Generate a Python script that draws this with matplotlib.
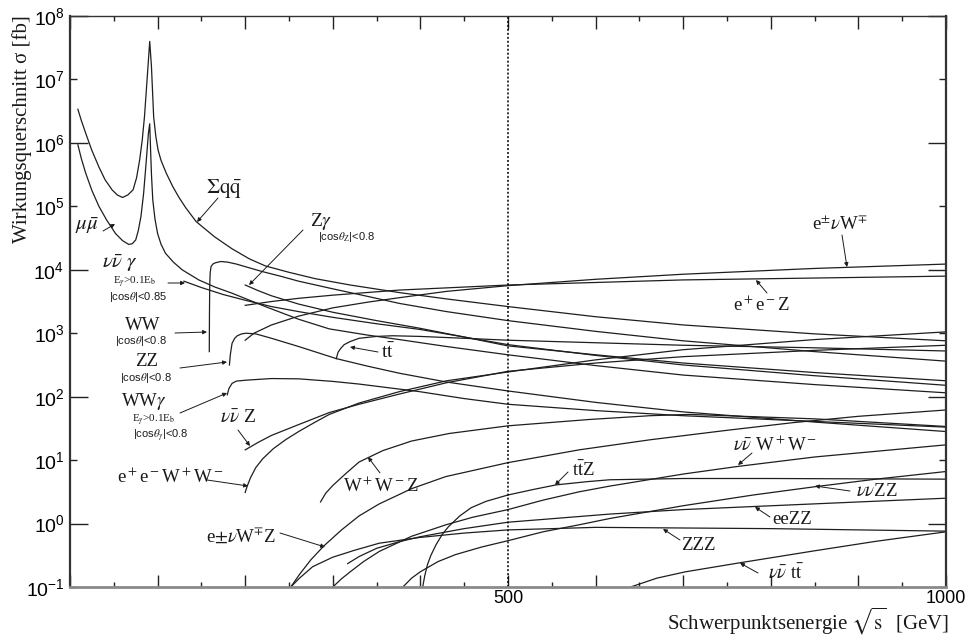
import numpy as np
import matplotlib
matplotlib.use('Agg')
import matplotlib.pyplot as plt
from matplotlib.ticker import FixedLocator, FuncFormatter

plt.rcParams['font.family'] = ['Liberation Sans', 'DejaVu Sans']
plt.rcParams['mathtext.fontset'] = 'stix'

# ---------------- data (sqrt(s) in GeV, sigma in fb) ----------------
E_qq = [9, 13, 18, 25, 33, 40, 48, 54, 60, 66, 72, 76, 79.5, 82.5, 85, 87, 89, 91, 93, 95.5, 98, 100.5, 104,
        110, 117, 124, 132, 144, 165, 185, 205, 223, 250, 280, 320, 376, 430, 500, 600, 700, 850, 1000]
S_qq = [3.39e6, 2.24e6, 1.41e6, 7.59e5, 4.17e5, 2.63e5, 1.82e5, 1.51e5, 1.38e5, 1.51e5, 1.82e5, 2.82e5,
        5.37e5, 1.12e6, 2.57e6, 6.31e6, 1.58e7, 3.98e7, 1.58e7, 2.57e6, 1.26e6, 7.76e5, 5.25e5, 3.31e5,
        2.09e5, 1.41e5, 9.55e4, 5.75e4, 3.31e4, 2.14e4, 1.48e4, 1.15e4, 9.12e3, 7.24e3, 5.75e3, 4.37e3,
        3.47e3, 2.63e3, 1.82e3, 1.35e3, 977, 759]

E_mm = [9, 13, 18, 25, 33, 42, 52, 60, 67, 71, 75, 78, 81, 84, 86.5, 89.5, 91, 92, 93, 94.5, 97, 100, 104,
        109, 118, 128, 147, 165, 185, 205, 223, 261, 296, 340, 376, 430, 500, 600, 700, 850, 1000]
S_mm = [9.33e5, 5.62e5, 3.31e5, 1.78e5, 1.0e5, 6.03e4, 3.72e4, 2.88e4, 2.51e4, 2.57e4, 2.95e4, 4.17e4,
        6.92e4, 1.58e5, 4.17e5, 1.41e6, 2.0e6, 7.76e5, 3.16e5, 1.26e5, 6.31e4, 3.72e4, 2.51e4, 1.82e4,
        1.32e4, 1.0e4, 6.92e3, 5.37e3, 4.27e3, 3.31e3, 2.63e3, 1.66e3, 1.17e3, 933, 794, 617, 457, 309,
        219, 155, 115]

E_nng = [130, 150, 175, 200, 230, 261, 300, 350, 399, 450, 500, 600, 700, 850, 1000]
S_nng = [6.61e3, 5.25e3, 4.07e3, 3.31e3, 2.63e3, 2.19e3, 1.78e3, 1.41e3, 1.15e3, 871, 661, 447, 316, 214, 151]

E_zg = [200, 215, 230, 261, 300, 350, 399, 450, 500, 600, 700, 850, 1000]
S_zg = [5.75e3, 4.68e3, 3.89e3, 2.88e3, 2.14e3, 1.58e3, 1.20e3, 871, 631, 457, 339, 240, 178]

E_ww = [159.0, 159.2, 159.5, 160, 161, 163, 166, 172, 180, 190, 205, 220, 240, 261, 300, 340, 376, 430,
        500, 600, 700, 850, 1000]
S_ww = [513, 2.0e3, 5.62e3, 8.91e3, 1.12e4, 1.23e4, 1.29e4, 1.35e4, 1.32e4, 1.23e4, 1.07e4, 9.33e3,
        7.94e3, 6.61e3, 5.01e3, 3.80e3, 2.95e3, 2.19e3, 1.58e3, 1.07e3, 759, 513, 363]

E_zz = [182, 183, 185, 188, 191, 196, 201, 212, 230, 261, 304, 340, 376, 430, 500, 600, 700, 850, 1000]
S_zz = [316, 457, 692, 832, 912, 977, 1000, 977, 832, 617, 398, 302, 234, 170, 123, 81.3, 57.5, 39.8, 28.2]

E_wwg = [179.5, 181.5, 185, 190, 201, 230, 261, 300, 330, 399, 450, 500, 600, 700, 850, 1000]
S_wwg = [107, 135, 162, 176, 182, 193, 191, 174, 158, 120, 93.3, 75.9, 60.3, 50.1, 40.7, 33.1]

E_tt = [304, 306, 309, 313, 320, 330, 350, 368, 399, 450, 500, 600, 700, 850, 1000]
S_tt = [398, 501, 575, 661, 741, 832, 891, 912, 891, 832, 776, 708, 646, 589, 525]

E_enw = [200, 210, 230, 261, 300, 340, 376, 430, 500, 600, 700, 850, 1000]
S_enw = [776, 1.0e3, 1.35e3, 1.86e3, 2.51e3, 3.09e3, 3.63e3, 4.57e3, 5.62e3, 7.08e3, 8.51e3, 1.05e4, 1.23e4]

E_eez = [200, 230, 261, 300, 376, 500, 700, 850, 1000]
S_eez = [2.75e3, 3.16e3, 3.55e3, 3.98e3, 4.79e3, 5.75e3, 6.92e3, 7.41e3, 7.94e3]

E_nnz = [200, 215, 230, 261, 296, 330, 376, 430, 500, 600, 700, 850, 1000]
S_nnz = [14.5, 19.1, 24.5, 36.3, 56.2, 75.9, 110, 166, 251, 339, 427, 537, 646]

E_eeww = [200, 202, 206, 212, 220, 232, 246, 261, 280, 296, 330, 376, 430, 500, 600, 700, 850, 1000]
S_eeww = [3.09, 3.80, 5.25, 7.59, 10.5, 15.1, 20.9, 28.2, 39.8, 52.5, 79.4, 120, 178, 245, 380, 550, 794, 1050]

E_wwz = [286, 292, 300, 315, 330, 357, 390, 433, 500, 593, 662, 707, 850, 1000]
S_wwz = [2.19, 3.02, 3.98, 6.17, 9.33, 14.1, 20.0, 26.3, 34.7, 43.7, 50.1, 52.5, 44.7, 33.9]

E_enwz = [252, 262, 275, 290, 310, 330, 353, 390, 429, 500, 581, 662, 750, 825, 900, 1000]
S_enwz = [0.1, 0.158, 0.269, 0.447, 0.794, 1.32, 2.04, 3.55, 5.50, 9.12, 14.5, 20.9, 29.5, 38.9, 49.0, 61.7]

E_zzz = [252, 262, 277, 300, 325, 353, 399, 450, 500, 600, 800, 1000]
S_zzz = [0.1, 0.138, 0.209, 0.295, 0.38, 0.49, 0.603, 0.708, 0.794, 0.871, 0.832, 0.759]

E_eezz = [317, 330, 350, 375, 399, 450, 500, 581, 616, 700, 782, 900, 1000]
S_eezz = [0.234, 0.302, 0.407, 0.513, 0.617, 0.832, 1.05, 1.29, 1.41, 1.66, 1.86, 2.19, 2.51]

E_nnww = [300, 310, 320, 335, 353, 390, 429, 460, 500, 540, 581, 616, 700, 762, 850, 1000]
S_nnww = [0.1, 0.135, 0.174, 0.251, 0.363, 0.631, 0.955, 1.26, 1.66, 2.34, 3.16, 3.89, 6.03, 7.94, 11.2, 17.4]

E_nnzz = [380, 390, 400, 420, 440, 470, 500, 540, 581, 616, 700, 780, 850, 920, 1000]
S_nnzz = [0.1, 0.138, 0.174, 0.251, 0.324, 0.427, 0.537, 0.741, 0.955, 1.20, 1.91, 2.82, 3.80, 5.01, 6.61]

E_ttz = [402.6, 405, 408, 412, 418, 425, 432, 445, 458, 475, 500, 530, 555, 590, 616, 700, 800, 1000]
S_ttz = [0.1, 0.151, 0.224, 0.316, 0.468, 0.676, 0.891, 1.32, 1.78, 2.24, 2.82, 3.47, 4.07, 4.57, 4.90,
         5.13, 5.13, 5.01]

E_nntt = [640, 670, 703, 764, 850, 920, 1000]
S_nntt = [0.1, 0.138, 0.174, 0.24, 0.372, 0.525, 0.741]

curves = [(E_qq, S_qq), (E_mm, S_mm), (E_nng, S_nng), (E_zg, S_zg), (E_ww, S_ww), (E_zz, S_zz),
          (E_wwg, S_wwg), (E_tt, S_tt), (E_enw, S_enw), (E_eez, S_eez), (E_nnz, S_nnz),
          (E_eeww, S_eeww), (E_wwz, S_wwz), (E_enwz, S_enwz), (E_zzz, S_zzz), (E_eezz, S_eezz),
          (E_nnww, S_nnww), (E_nnzz, S_nnzz), (E_ttz, S_ttz), (E_nntt, S_nntt)]

x_labels = {500: '500', 1000: '1000'}

# ---------------- figure ----------------
W, H = 969, 635
fig = plt.figure(figsize=(W / 100, H / 100), dpi=100)
ax = fig.add_axes([70 / W, 1 - 587 / H, (946 - 70) / W, (587 - 16) / H])
ax.set_yscale('log')
ax.set_xlim(0, 1000)
ax.set_ylim(0.1, 1e8)

for E, S in curves:
    ax.plot(E, S, color='#1e1e1e', lw=0.9, solid_joinstyle='round')

ax.axvline(500, color='black', ls=(0, (1.3, 1.3)), lw=1.1)

# x ticks
ax.xaxis.set_major_locator(FixedLocator(np.arange(0, 1001, 100)))
ax.xaxis.set_minor_locator(FixedLocator(np.arange(50, 1000, 100)))
ax.xaxis.set_major_formatter(FuncFormatter(lambda v, p: x_labels.get(int(round(v)), '')))
ax.tick_params(axis='x', which='major', direction='in', length=9, width=1.0, top=True, bottom=True,
               labelsize=13, pad=2.5, color='#222')
ax.tick_params(axis='x', which='minor', direction='in', length=3.5, width=1.0, top=True, bottom=True,
               color='#222')

# y ticks: long at even decades, short at odd decades
ax.yaxis.set_major_locator(FixedLocator([10.0 ** k for k in (0, 2, 4, 6, 8)]))
ax.yaxis.set_minor_locator(FixedLocator([10.0 ** k for k in (-1, 1, 3, 5, 7)]))
fmt = FuncFormatter(lambda v, p: r'$\mathregular{10^{%d}}$' % int(round(np.log10(v))))
ax.yaxis.set_major_formatter(fmt)
ax.yaxis.set_minor_formatter(fmt)
ax.tick_params(axis='y', which='major', direction='in', length=13, width=1.0, left=True, right=True,
               labelsize=14, pad=4, color='#222')
ax.tick_params(axis='y', which='minor', direction='in', length=5, width=1.0, left=True, right=True,
               labelsize=14, pad=4, color='#222')

for s in ('left', 'right'):
    ax.spines[s].set_linewidth(1.6)
    ax.spines[s].set_color('#333')
ax.spines['top'].set_linewidth(1.0)
ax.spines['top'].set_color('#333')
ax.spines['bottom'].set_linewidth(2.0)
ax.spines['bottom'].set_color('#8a8a8a')

SERIF = ['Liberation Serif', 'DejaVu Serif']
SANS = ['Liberation Sans', 'DejaVu Sans']


def P(x, y):
    return (x, H - y)


def label(txt, x, y, size=14, fam=SERIF, ha='center'):
    fig.text(x / W, 1 - y / H, txt, fontsize=size, family=fam, ha=ha, va='center', color='#1a1a1a')


def arrow(x0, y0, x1, y1):
    ax.annotate('', xy=P(x1, y1), xycoords='figure pixels', xytext=P(x0, y0), textcoords='figure pixels',
                arrowprops=dict(arrowstyle='-|>', lw=0.7, color='#1a1a1a', mutation_scale=6,
                                shrinkA=0, shrinkB=0))


# axis titles
fig.text(22 / W, 1 - 129 / H, 'Wirkungsquerschnitt σ [fb]', rotation=90, fontsize=15, family=SERIF,
         ha='center', va='center', color='#1a1a1a')
fig.text(808 / W, 1 - 621 / H, r'Schwerpunktsenergie $\sqrt{\mathrm{s}}$  [GeV]', fontsize=15, family=SERIF,
         ha='center', va='center', color='#1a1a1a')

SUB = 8

# curve labels
label(r'$\Sigma\mathrm{q}\bar{\mathrm{q}}$', 224, 189, 15)
arrow(218, 198, 197, 222)

label(r'$\mu\bar{\mu}$', 87, 226, 15)
arrow(103, 231, 115, 224)

label(r'$\nu\bar{\nu}\ \gamma$', 120, 263, 15)
label(r'E$_\gamma$>0.1E$_\mathrm{b}$', 135, 282, SUB)
label(r'|cos$\theta$|<0.85', 138, 297, SUB, SANS)
arrow(168, 283, 185, 283)

label('WW', 143, 326, 13.5)
label(r'|cos$\theta$|<0.8', 141, 341, SUB, SANS)
arrow(175, 333, 207, 332)

label('ZZ', 147, 362, 13.5)
label(r'|cos$\theta$|<0.8', 146, 378, SUB, SANS)
arrow(180, 368, 227, 362)

label(r'WW$\gamma$', 144, 402, 13.5)
label(r'E$_\gamma$>0.1E$_\mathrm{b}$', 154, 420, SUB)
label(r'|cos$\theta_\gamma$|<0.8', 161, 436, SUB, SANS)
arrow(180, 413, 227, 393)

label(r'$\nu\bar{\nu}$ Z', 238, 418, 14)
arrow(238, 430, 250, 446)

label(r'e$^+$e$^-$W$^+$W$^-$', 170, 477, 13.5)
arrow(207, 480, 248, 486)

label(r'e$\pm\nu$W$^{\mp}$Z', 241, 536, 13.5)
arrow(280, 533, 325, 547)

label(r'Z$\gamma$', 321, 222, 14)
label(r'|cos$\theta_\mathrm{Z}$|<0.8', 347, 237, SUB, SANS)
arrow(303, 230, 249, 285)

label(r't$\bar{\mathrm{t}}$', 388, 352, 14)
arrow(378, 352, 350, 347)

label(r'W$^+$W$^-$Z', 381, 486, 13.5)
arrow(380, 473, 368, 457)

label(r't$\bar{\mathrm{t}}$Z', 583, 470, 13.5)
arrow(568, 472, 555, 485)

label(r'e$^{\pm}\nu$W$^{\mp}$', 840, 225, 13.5)
arrow(842, 235, 847, 267)

label(r'e$^+$e$^-$Z', 762, 305, 13.5)
arrow(767, 293, 756, 280)

label(r'$\nu\bar{\nu}$ W$^+$W$^-$', 775, 445, 13.5)
arrow(752, 453, 738, 465)

label(r'$\nu\nu$ZZ', 877, 491, 13.5)
arrow(850, 491, 815, 486)

label('eeZZ', 792, 519, 13.5)
arrow(770, 517, 755, 507)

label('ZZZ', 698, 546, 13.5)
arrow(680, 540, 663, 529)

label(r'$\nu\bar{\nu}$ t$\bar{\mathrm{t}}$', 786, 573, 13.5)
arrow(758, 573, 740, 563)

fig.savefig('out.png', dpi=100)
